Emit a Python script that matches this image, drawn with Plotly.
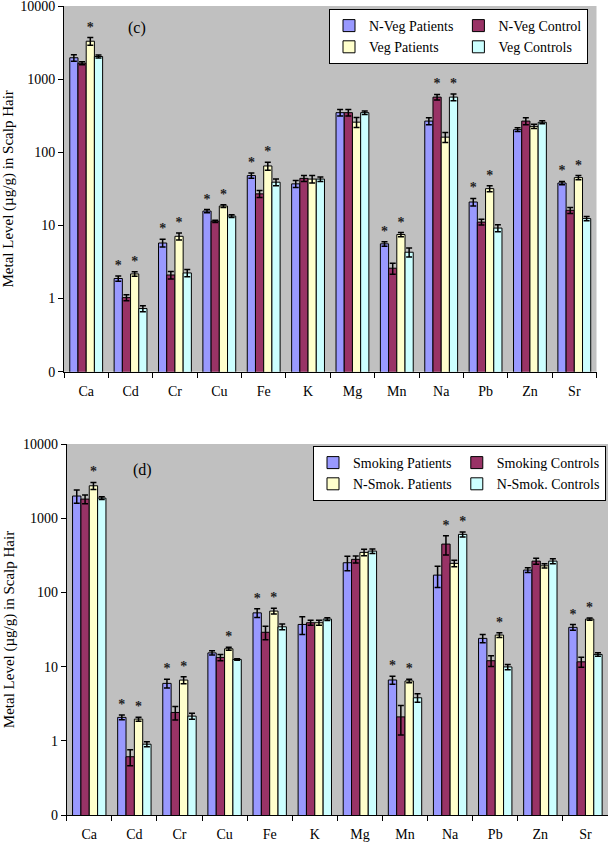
import plotly.graph_objects as go
from plotly.subplots import make_subplots

# Metal levels in scalp hair (ug/g), log scale
metals = ['Ca', 'Cd', 'Cr', 'Cu', 'Fe', 'K', 'Mg', 'Mn', 'Na', 'Pb', 'Zn', 'Sr']

# panel (c): diet
nveg_pat = [1960, 1.88, 5.75, 15.7, 48, 37, 348, 5.6, 267, 20.9, 204, 38]
nveg_pat_err = [200, 0.15, 0.7, 0.8, 4, 4, 35, 0.4, 30, 2.5, 12, 2]
nveg_ctl = [1650, 1.03, 2.1, 11.4, 27, 44, 348, 2.6, 568, 11.1, 267, 16.1]
nveg_ctl_err = [80, 0.1, 0.25, 0.4, 3, 4, 35, 0.45, 50, 1, 30, 1.5]
veg_pat = [3300, 2.17, 7.1, 18.4, 65, 43, 258, 7.5, 161, 31.8, 226, 45]
veg_pat_err = [400, 0.15, 0.8, 0.8, 8, 5, 40, 0.5, 25, 3, 15, 3]
veg_ctl = [2040, 0.73, 2.24, 13.4, 39, 43, 348, 4.3, 568, 9.2, 257, 12.4]
veg_ctl_err = [100, 0.07, 0.25, 0.6, 4, 3, 20, 0.6, 60, 1, 12, 0.8]
# significance marks (1 = asterisk)
nveg_pat_sig = [0, 1, 1, 1, 1, 0, 0, 1, 0, 1, 0, 1]
nveg_ctl_sig = [0, 0, 0, 0, 0, 0, 0, 0, 1, 0, 0, 0]
veg_pat_sig = [1, 1, 1, 1, 1, 0, 0, 1, 0, 1, 0, 1]
veg_ctl_sig = [0, 0, 0, 0, 0, 0, 0, 0, 1, 0, 0, 0]

# panel (d): smoking
smk_pat = [1990, 2.07, 5.94, 15.3, 53, 37, 251, 6.6, 171, 24, 200, 33.8]
smk_pat_err = [400, 0.15, 0.8, 1, 7, 10, 55, 0.8, 55, 3, 15, 3]
smk_ctl = [1810, 0.61, 2.41, 13.3, 29, 39, 279, 2.1, 448, 12, 264, 11.6]
smk_ctl_err = [250, 0.15, 0.5, 1.3, 6, 3, 30, 0.9, 130, 2, 25, 1.8]
nsmk_pat = [2735, 1.96, 6.58, 17.4, 56, 39, 346, 6.4, 246, 26.6, 228, 43.7]
nsmk_pat_err = [300, 0.12, 0.7, 0.8, 5, 3, 35, 0.35, 25, 2, 15, 1.5]
nsmk_ctl = [1865, 0.9, 2.15, 12.5, 34.4, 43.7, 360, 3.8, 605, 9.9, 264, 14.6]
nsmk_ctl_err = [80, 0.07, 0.2, 0.3, 3, 2, 25, 0.5, 45, 0.8, 20, 0.8]
smk_pat_sig = [0, 1, 1, 0, 1, 0, 0, 1, 0, 0, 0, 1]
smk_ctl_sig = [0, 0, 0, 0, 0, 0, 0, 0, 1, 0, 0, 0]
nsmk_pat_sig = [1, 1, 1, 1, 1, 0, 0, 1, 0, 1, 0, 1]
nsmk_ctl_sig = [0, 0, 0, 0, 0, 0, 0, 0, 1, 0, 0, 0]

tick_vals = [0.1, 1, 10, 100, 1000, 10000]
tick_text = ['0', '1', '10', '100', '1000', '10000']

colors = ['#9999ff', '#993366', '#ffffcc', '#ccffff']
serif = 'Times New Roman, Liberation Serif, serif'

fig = make_subplots(rows=2, cols=1)


def add_panel(row, names, values, errors, sigs, legend):
    for i, (name, vals, errs, sig) in enumerate(zip(names, values, errors, sigs)):
        fig.add_trace(go.Bar(
            x=metals, y=vals, name=name, offsetgroup=str(i),
            legend=legend, legendgroup=legend + str(i % 2),
            marker=dict(color=colors[i], line=dict(color='black', width=1)),
            error_y=dict(type='data', array=errs, color='black', thickness=1.5, width=3),
        ), row=row, col=1)
        # invisible bar reaching the top of the error bar, carrying the asterisk
        tops = [v + e if s else None for v, e, s in zip(vals, errs, sig)]
        star_font = dict(family=serif, size=14, color='#222222', weight='bold')
        fig.add_trace(go.Bar(
            x=metals, y=tops, offsetgroup=str(i), showlegend=False, hoverinfo='skip',
            marker=dict(color='rgba(0,0,0,0)', line=dict(width=0)),
            text=['*' if s else '' for s in sig], textposition='outside',
            textfont=star_font, outsidetextfont=star_font,
            constraintext='none', cliponaxis=False,
        ), row=row, col=1)


add_panel(1, ['N-Veg Patients', 'N-Veg Control', 'Veg Patients', 'Veg Controls'],
          [nveg_pat, nveg_ctl, veg_pat, veg_ctl],
          [nveg_pat_err, nveg_ctl_err, veg_pat_err, veg_ctl_err],
          [nveg_pat_sig, nveg_ctl_sig, veg_pat_sig, veg_ctl_sig], 'legend')
add_panel(2, ['Smoking Patients', 'Smoking Controls', 'N-Smok. Patients', 'N-Smok. Controls'],
          [smk_pat, smk_ctl, nsmk_pat, nsmk_ctl],
          [smk_pat_err, smk_ctl_err, nsmk_pat_err, nsmk_ctl_err],
          [smk_pat_sig, smk_ctl_sig, nsmk_pat_sig, nsmk_ctl_sig], 'legend2')

axis_font = dict(family=serif, size=14, color='black')
fig.update_xaxes(
    showline=True, linecolor='black', linewidth=1, ticks='outside', ticklen=5,
    tickcolor='black', tickson='boundaries', tickfont=axis_font, showgrid=False,
    automargin=False, ticklabelstandoff=6,
)
fig.update_yaxes(
    type='log', range=[-1, 4], tickvals=tick_vals, ticktext=tick_text,
    showline=True, linecolor='black', linewidth=1, ticks='outside', ticklen=5,
    tickcolor='black', tickfont=axis_font, showgrid=False, zeroline=False,
    automargin=False, ticklabeloverflow='allow',
    title=dict(text='Metal Level (µg/g) in Scalp Hair',
               font=dict(family=serif, size=15, color='black'), standoff=4),
)

legend_style = dict(
    orientation='h', traceorder='grouped', xanchor='left', yanchor='top',
    bgcolor='white', bordercolor='black', borderwidth=1,
    font=dict(family=serif, size=14, color='black'), tracegroupgap=0,
)

label_font = dict(family=serif, size=16, color='black')
fig.update_layout(
    width=608, height=845,
    margin=dict(l=0, r=0, t=0, b=0),
    paper_bgcolor='white', plot_bgcolor='#c0c0c0',
    barmode='group', bargap=0.26, bargroupgap=0,
    xaxis=dict(domain=[64 / 608, 596.5 / 608]),
    yaxis=dict(domain=[1 - 371.7 / 845, 1 - 6 / 845]),
    xaxis2=dict(domain=[66.7 / 608, 1.0]),
    yaxis2=dict(domain=[1 - 815 / 845, 1 - 444 / 845]),
    legend=dict(x=329 / 608, y=1 - 9 / 845, **legend_style),
    legend2=dict(x=313 / 608, y=1 - 446 / 845, **legend_style),
    annotations=[
        dict(text='(c)', x=137 / 608, y=1 - 28 / 845, xref='paper', yref='paper',
             xanchor='center', yanchor='middle', showarrow=False, font=label_font),
        dict(text='(d)', x=142 / 608, y=1 - 470 / 845, xref='paper', yref='paper',
             xanchor='center', yanchor='middle', showarrow=False, font=label_font),
    ],
)

fig.write_html("out.html", config={'displayModeBar': False},
               post_script="document.body.style.margin='0';")
